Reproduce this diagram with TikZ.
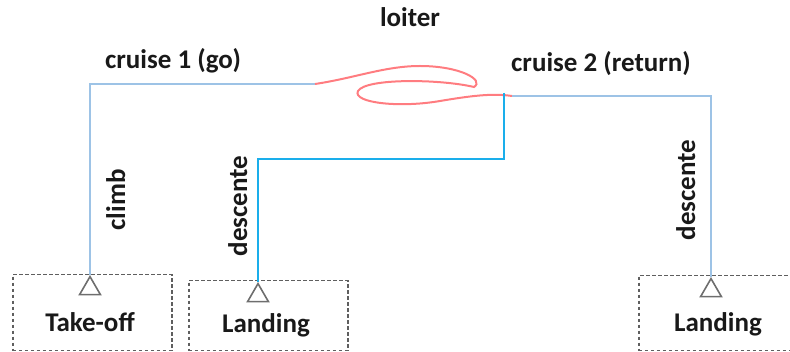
\documentclass[tikz,border=0pt]{standalone}
\usepackage{fontspec}
\setmainfont{Carlito}
\usetikzlibrary{shapes.geometric}
\definecolor{lblue}{HTML}{9DC3E6}
\definecolor{dblue}{HTML}{1AAEEB}
\definecolor{salmon}{HTML}{FF7C80}
\definecolor{boxgray}{HTML}{5F5F5F}
\definecolor{trigray}{HTML}{6E6E6E}
\begin{document}
\begin{tikzpicture}[x=1pt,y=-1pt,
  lbl/.style={font=\fontsize{27}{32}\selectfont\bfseries, text=black!90, inner sep=0pt, anchor=base},
  rlbl/.style={lbl, rotate=90},
  dbox/.style={draw=boxgray, dash pattern=on 3.5pt off 2.5pt, line width=1.5pt, inner sep=0pt},
  tri/.style={draw=trigray, line width=1.6pt, regular polygon, regular polygon sides=3, minimum size=24pt, inner sep=0pt, anchor=corner 1},
  lline/.style={draw=lblue, line width=1.8pt},
  dline/.style={draw=dblue, line width=2pt},
  rline/.style={draw=salmon, line width=2pt}]
\useasboundingbox (0,0) rectangle (790,352);
\begin{scope}
\clip (0,0) rectangle (790,352);
% boxes
\node[dbox, minimum width=159pt, minimum height=76pt, anchor=north west] (b1) at (12,274) {};
\node[dbox, minimum width=159pt, minimum height=70pt, anchor=north west] (b2) at (188,280) {};
\node[dbox, minimum width=154pt, minimum height=75pt, anchor=north west] (b3) at (638,275) {};
\end{scope}
% triangles
\node[tri] (t1) at (90,275) {};
\node[tri] (t2) at (258,282) {};
\node[tri] (t3) at (711,277) {};
% box labels
\node[lbl] (l1) at (90,332) {Take-off};
\node[lbl] (l2) at (266,333) {Landing};
\node[lbl] (l3) at (718,332) {Landing};
% top labels
\node[lbl] (lo) at (410,27) {loiter};
\node[lbl] (c1t) at (173,69) {cruise 1 (go)};
\node[lbl] (c2t) at (601,72) {cruise 2 (return)};
% rotated labels
\node[rlbl] (cl) at (125,200) {climb};
\node[rlbl] (d1) at (247,206) {descente};
\node[rlbl] (d2) at (695,190) {descente};
% path coordinates
\coordinate (ca) at (315,84);
\coordinate (cb) at (512,96);
\coordinate (cc) at (504,93);
\coordinate (ck) at (504,159);
% connectors
\draw[lline] (t1.corner 1) |- (ca);
\draw[rline] (ca) .. controls (355,78) and (385,66) .. (420,66)
  .. controls (460,66) and (485,80) .. (474,87)
  .. controls (440,79) and (366,78) .. (358,91)
  .. controls (352,103) and (400,108) .. (440,101)
  .. controls (470,96) and (492,93) .. (cb);
\draw[lline] (cb) -| (t3.corner 1);
\draw[dline] (cc) -- (ck) -| (t2.corner 1);
\end{tikzpicture}
\end{document}
